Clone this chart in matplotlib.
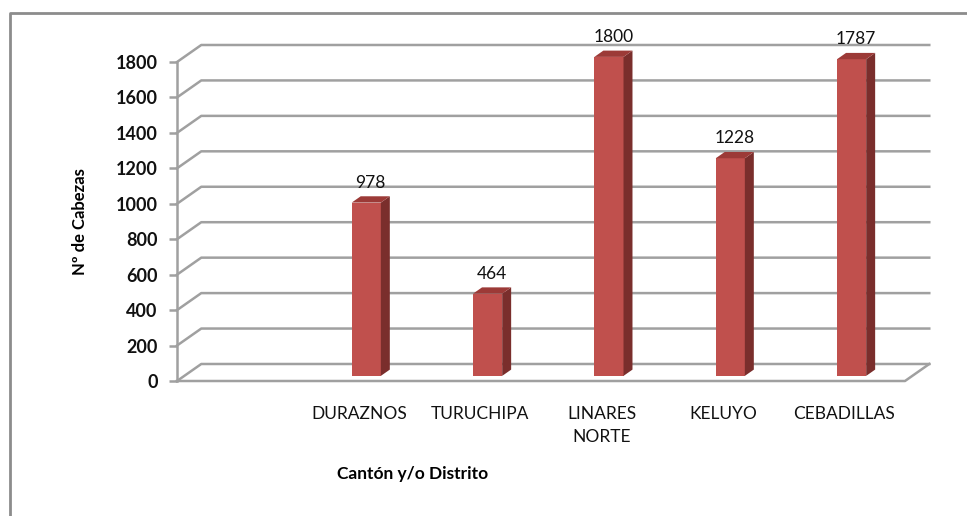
import matplotlib.pyplot as plt
from matplotlib.lines import Line2D
from matplotlib.patches import Polygon

# Cabezas de ganado por cantón (primera posición vacía, como en la hoja original)
cantones = ['', 'DURAZNOS', 'TURUCHIPA', 'LINARES\nNORTE', 'KELUYO', 'CEBADILLAS']
cabezas = [None, 978, 464, 1800, 1228, 1787]
yticks = list(range(0, 1801, 200))

plt.rcParams['font.family'] = ['Lato', 'DejaVu Sans']

W, H = 967, 516
fig = plt.figure(figsize=(W / 100, H / 100), dpi=100)

# front plane of the pseudo-3D chart, in pixels
left, right, bottom, top = 177, 905, 381, 62
ax = fig.add_axes([left / W, (H - bottom) / H, (right - left) / W, (bottom - top) / H])
ax.set_xlim(-0.5, len(cantones) - 0.5)
ax.set_ylim(0, 1800)

grid_c = '#A0A0A0'
# depth of the chart box (category units / value units)
ddx, ddy = 0.2, 96

# side wall + back wall gridlines
x0, x1 = -0.5, len(cantones) - 0.5
for v in yticks:
    ax.plot([x0, x0 + ddx, x1 + ddx], [v, v + ddy, v + ddy],
            color=grid_c, lw=1.8, clip_on=False, zorder=1)
# floor edges
ax.plot([x0, x1, x1 + ddx], [0, 0, ddy], color=grid_c, lw=1.8, clip_on=False, zorder=1)

# columns
bw = 0.24
f1, f2 = 0.3, 0.67
c_front, c_side, c_top = '#C0504D', '#7A2E2C', '#9C3A37'
for i, v in enumerate(cabezas):
    if v is None:
        continue
    a = i - bw / 2 + f1 * ddx
    b = i + bw / 2 + f1 * ddx
    s1y, s2y = f1 * ddy, f2 * ddy
    sx = (f2 - f1) * ddx
    ax.add_patch(Polygon([(a, s1y), (b, s1y), (b, v + s1y), (a, v + s1y)],
                         closed=True, fc=c_front, ec='none', clip_on=False, zorder=3))
    ax.add_patch(Polygon([(b, s1y), (b + sx, s2y), (b + sx, v + s2y), (b, v + s1y)],
                         closed=True, fc=c_side, ec='none', clip_on=False, zorder=3))
    ax.add_patch(Polygon([(a, v + s1y), (b, v + s1y), (b + sx, v + s2y), (a + sx, v + s2y)],
                         closed=True, fc=c_top, ec='none', clip_on=False, zorder=3))
    ax.annotate(str(v), xy=(i + (f1 + f2) / 2 * ddx, v + s2y), xytext=(0, 4),
                textcoords='offset points', ha='center', va='bottom',
                fontsize=12.5, color='#111111', zorder=4, annotation_clip=False)

for s in ['top', 'right', 'bottom']:
    ax.spines[s].set_visible(False)
ax.spines['left'].set_color(grid_c)
ax.spines['left'].set_linewidth(1.8)
ax.set_facecolor('none')

ax.set_yticks(yticks)
ax.set_yticklabels([str(t) for t in yticks], fontsize=13, fontweight='bold')
ax.tick_params(axis='y', colors=grid_c, length=6, width=1.8, pad=8, labelcolor='#111111')
ax.set_xticks(range(len(cantones)))
ax.set_xticklabels(cantones, fontsize=12.5, color='#111111', linespacing=1.5)
ax.tick_params(axis='x', length=0, pad=18)

ax.set_ylabel('Nº de Cabezas', fontsize=12, fontweight='bold', labelpad=20)
fig.text(413 / W, 1 - 474 / H, 'Cantón y/o Distrito', ha='center', va='center',
         fontsize=12.5, fontweight='bold')

# outer frame (left and top)
fig.add_artist(Line2D([10 / W, 10 / W, 1], [0, 1 - 13 / H, 1 - 13 / H],
                      transform=fig.transFigure, color='#8C8C8C', lw=2))

fig.savefig('out.png', dpi=100)
